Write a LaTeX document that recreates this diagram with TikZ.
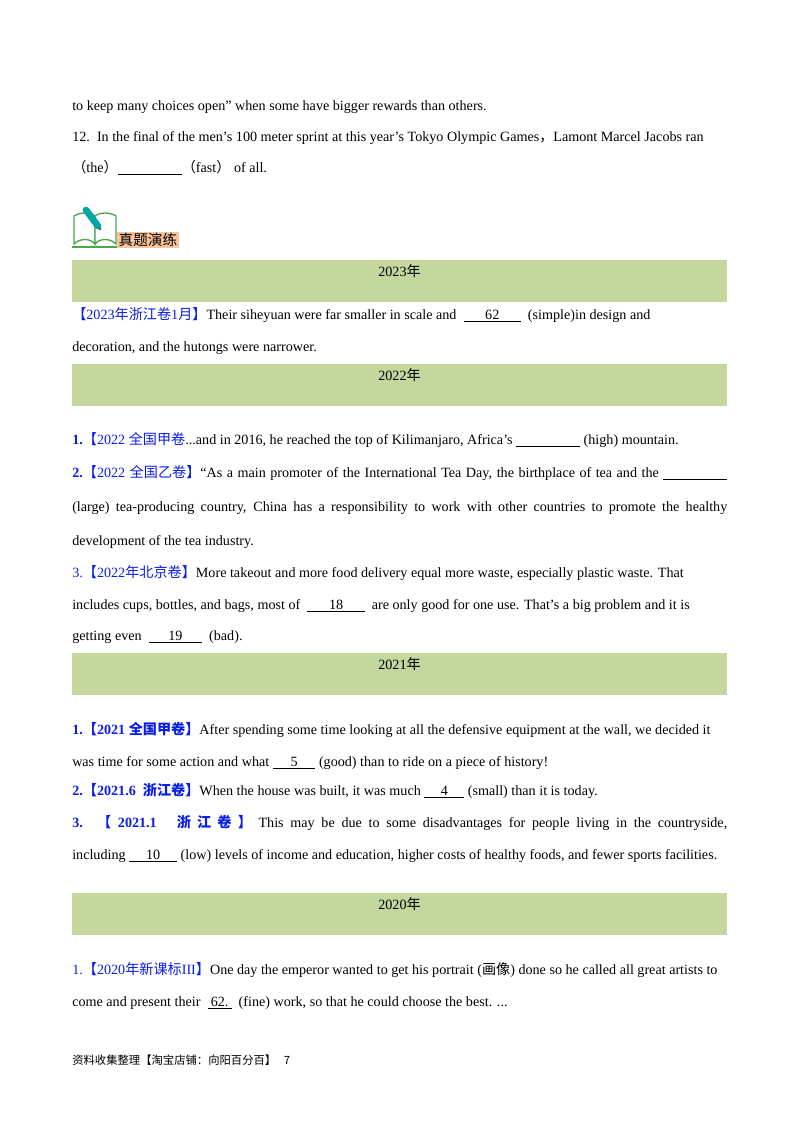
\documentclass[tikz,border=0pt]{standalone}
\usepackage{fontspec}
\setmainfont{Liberation Serif}
\newfontfamily\cjk{Noto Sans CJK SC}
\definecolor{bar}{HTML}{C4D89E}
\definecolor{lbl}{HTML}{0A1EE6}
\definecolor{tag}{HTML}{F9C49A}
\newcommand{\ul}[2]{\underline{\makebox[#1]{#2}}}
\newcommand{\cb}[1]{{\color{lbl}#1}}
\newcommand{\jline}[1]{\makebox[491.25pt][s]{#1}}
\tikzset{
  ln/.style={anchor=base west, inner sep=0pt, font=\fontsize{10.6pt}{12pt}\selectfont},
  bartext/.style={font=\fontsize{10.6pt}{12pt}\selectfont, inner sep=0pt},
  bookside/.style={draw=green!50!black!70, fill=white, line width=1pt}
}
\begin{document}
\begin{tikzpicture}[x=0.75pt,y=-0.75pt]
\useasboundingbox (0,0) rectangle (800,1132);
\node[ln] (l1) at (72,110) {to keep many choices open” when some have bigger rewards than others.};
\node[ln] (l2) at (72,141) {12.\ \ In the final of the men’s 100 meter sprint at this year’s Tokyo Olympic Games{\cjk ，}Lamont Marcel Jacobs ran};
\node[ln] (l3) at (72,172) {{\cjk （}the{\cjk ）}\ul{48pt}{}{\cjk （}fast{\cjk ）} of all.};
% icon
\draw[bookside] (74,244) .. controls (80,238) and (90,238) .. (95,244) -- (95,216) .. controls (90,212) and (80,212) .. (74,216) -- cycle;
\draw[bookside] (116,244) .. controls (110,238) and (100,238) .. (95,244) -- (95,216) .. controls (100,212) and (110,212) .. (116,216) -- cycle;
\draw[draw=green!50!black!70, line width=1.2pt] (72,247) -- (118,247);
\draw[line width=5pt, draw=teal!70!cyan, line cap=round] (86,210) -- (98,226);
\fill[black!70] (100,229) circle (1.3);
\node[fill=tag, inner sep=1pt, anchor=west, font=\cjk\fontsize{11pt}{12pt}\selectfont] (tag) at (117,240) {真题演练};
% bars
\foreach \y/\t/\n in {260/2023/b1,364/2022/b2,653/2021/b3,893/2020/b4}{
  \fill[bar] (72,\y) rectangle (727,\y+42);
  \node[bartext] (\n) at (399.5,\y+11) {\t{\cjk 年}};
}
\node[ln] (a1) at (72,319) {\cb{{\cjk 【}2023{\cjk 年浙江卷}1{\cjk 月】}}Their siheyuan were far smaller in scale and \ \ul{43pt}{62} \ (simple)in design and};
\node[ln] (a2) at (72,351) {decoration, and the hutongs were narrower.};
\node[ln] (c1) at (72,444) {\cb{\textbf{1.}{\cjk 【}2022 {\cjk 全国甲卷}}...and in 2016, he reached the top of Kilimanjaro, Africa’s \ul{48pt}{} (high) mountain.};
\node[ln] (c2) at (72,477) {\jline{\cb{\textbf{2.}{\cjk 【}2022 {\cjk 全国乙卷】}}“As a main promoter of the International Tea Day, the birthplace of tea and the \ul{48pt}{}}};
\node[ln] (c3) at (72,511) {\jline{(large) tea-producing country, China has a responsibility to work with other countries to promote the healthy}};
\node[ln] (c4) at (72,545) {development of the tea industry.};
\node[ln] (c5) at (72,577) {\cb{3.{\cjk 【}2022{\cjk 年北京卷】}}More takeout and more food delivery equal more waste, especially plastic waste. That};
\node[ln] (c6) at (72,609) {includes cups, bottles, and bags, most of \ \ul{43pt}{18} \ are only good for one use. That’s a big problem and it is};
\node[ln] (c7) at (72,640) {getting even \ \ul{40pt}{19} \ (bad).};
\node[ln] (d1) at (72,734) {\cb{\textbf{1.{\cjk 【}2021 {\cjk 全国甲卷】}}}After spending some time looking at all the defensive equipment at the wall, we decided it};
\node[ln] (d2) at (72,766) {was time for some action and what \ul{32pt}{5} (good) than to ride on a piece of history!};
\node[ln] (d3) at (72,795) {\cb{\textbf{2.{\cjk 【}2021.6 \ {\cjk 浙江卷】}}}When the house was built, it was much \ul{30pt}{4} (small) than it is today.};
\node[ln] (d4) at (72,827) {\jline{\cb{\textbf{3. {\cjk 【} 2021.1 \ \ {\cjk 浙 江 卷 】}}} This may be due to some disadvantages for people living in the countryside,}};
\node[ln] (d5) at (72,859) {including \ul{36pt}{10} (low) levels of income and education, higher costs of healthy foods, and fewer sports facilities.};
\node[ln] (e1) at (72,974) {\cb{1.{\cjk 【}2020{\cjk 年新课标}III{\cjk 】}}One day the emperor wanted to get his portrait ({\cjk 画像}) done so he called all great artists to};
\node[ln] (e2) at (72,1006) {come and present their \ \ul{18pt}{62.} \ (fine) work, so that he could choose the best. ...};
\node[anchor=base west, inner sep=0pt, font=\cjk\fontsize{8.5pt}{10pt}\selectfont] (ft) at (72,1064) {资料收集整理【淘宝店铺：向阳百分百】\ \ \ 7};
\end{tikzpicture}
\end{document}
